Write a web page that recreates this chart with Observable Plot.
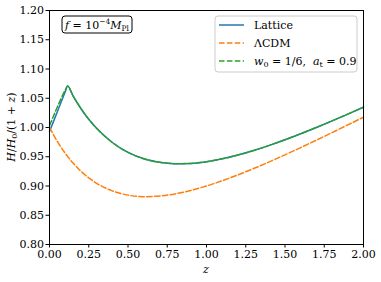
<!DOCTYPE html>
<html>
<head>
<meta charset="utf-8">
<script src="https://cdn.jsdelivr.net/npm/d3@7"></script>
<script src="https://cdn.jsdelivr.net/npm/@observablehq/plot@0.6"></script>
<style>
  body { margin: 0; background: white; }
  #chart svg { display: block; }
  #chart svg text, #chart svg tspan { font-family: "DejaVu Serif", "Liberation Serif", serif !important; }
</style>
</head>
<body>
<div id="chart"></div>
<script>
// ---- data ----
const zLattice = [0, 0.05, 0.1, 0.115, 0.15, 0.2, 0.25, 0.3, 0.4, 0.5, 0.6, 0.7, 0.8, 0.9, 1.0, 1.1, 1.2, 1.3, 1.4, 1.5, 1.6, 1.7, 1.8, 1.9, 2.0];
const lattice  = [0.993, 1.027, 1.061, 1.071, 1.054, 1.0325, 1.014, 0.9986, 0.9744, 0.9575, 0.9467, 0.9405, 0.938, 0.9386, 0.9415, 0.9464, 0.9529, 0.9606, 0.9694, 0.979, 0.9893, 1.0001, 1.0113, 1.0229, 1.0348];
const w0model  = [1.003, 1.035, 1.064, 1.071, 1.054, 1.0325, 1.014, 0.9986, 0.9744, 0.9575, 0.9467, 0.9405, 0.938, 0.9386, 0.9415, 0.9464, 0.9529, 0.9606, 0.9694, 0.979, 0.9893, 1.0001, 1.0113, 1.0229, 1.0348];
const zLCDM = [0, 0.05, 0.1, 0.15, 0.2, 0.25, 0.3, 0.4, 0.5, 0.6, 0.7, 0.8, 0.9, 1.0, 1.1, 1.2, 1.3, 1.4, 1.5, 1.6, 1.7, 1.8, 1.9, 2.0];
const lcdm  = [1.0, 0.9761, 0.956, 0.9392, 0.9253, 0.9139, 0.9046, 0.8916, 0.8844, 0.8818, 0.8828, 0.8865, 0.8924, 0.9, 0.909, 0.919, 0.9298, 0.9413, 0.9533, 0.9657, 0.9784, 0.9913, 1.0044, 1.0176];
const xTicks = [0, 0.25, 0.5, 0.75, 1.0, 1.25, 1.5, 1.75, 2.0];
const yTicks = [0.8, 0.85, 0.9, 0.95, 1.0, 1.05, 1.1, 1.15, 1.2];
const seriesNames = ["Lattice", "ΛCDM", "w0"];
const colors = ["#1f77b4", "#ff7f0e", "#2ca02c"];

const latticeData = zLattice.map((z, i) => ({z, v: lattice[i]}));
const w0Data = zLattice.map((z, i) => ({z, v: w0model[i]}));
const lcdmData = zLCDM.map((z, i) => ({z, v: lcdm[i]}));

const FONT = "DejaVu Serif";
const dash = "5.5,2.4";

const W = 381, H = 282, mL = 49, mR = 18, mT = 10, mB = 38;

const plot = Plot.plot({
  width: W, height: H,
  marginLeft: mL, marginRight: mR, marginTop: mT, marginBottom: mB,
  style: {fontFamily: FONT, fontSize: "11px", color: "black", background: "white", overflow: "visible"},
  x: {domain: [0, 2], ticks: xTicks, tickFormat: d3.format(".2f"), label: null, tickSize: 3.5, tickPadding: 2},
  y: {domain: [0.8, 1.2], ticks: yTicks, tickFormat: d3.format(".2f"), label: null, tickSize: 3.5, tickPadding: 2},
  marks: [
    Plot.line(latticeData, {x: "z", y: "v", stroke: colors[0], strokeWidth: 1.5, curve: "monotone-x"}),
    Plot.line(lcdmData, {x: "z", y: "v", stroke: colors[1], strokeWidth: 1.5, strokeDasharray: dash, curve: "monotone-x"}),
    Plot.line(w0Data, {x: "z", y: "v", stroke: colors[2], strokeWidth: 1.5, strokeDasharray: dash, curve: "monotone-x"}),
    Plot.frame({stroke: "black", strokeWidth: 1})
  ]
});
document.getElementById("chart").appendChild(plot);

const svg = d3.select(plot);
const cx = (mL + (W - mR)) / 2;
const cy = (mT + (H - mB)) / 2;

// x label
svg.append("text").attr("x", cx).attr("y", 273).attr("text-anchor", "middle")
  .attr("font-size", 11).attr("font-style", "italic").text("z");

// y label  H/H0/(1+z)
const yl = svg.append("text").attr("transform", `translate(15,${cy}) rotate(-90)`)
  .attr("text-anchor", "middle").attr("font-size", 11);
yl.append("tspan").attr("font-style", "italic").text("H");
yl.append("tspan").text("/");
yl.append("tspan").attr("font-style", "italic").text("H");
yl.append("tspan").attr("font-size", 8).attr("dy", 2).text("0");
yl.append("tspan").attr("dy", -2).text("/(1 + ");
yl.append("tspan").attr("font-style", "italic").text("z");
yl.append("tspan").text(")");

// annotation box
const ag = svg.append("g");
ag.append("rect").attr("x", 62).attr("y", 16).attr("width", 70).attr("height", 17).attr("rx", 3)
  .attr("fill", "white").attr("stroke", "black").attr("stroke-width", 1);
const at = ag.append("text").attr("x", 97).attr("y", 28.5).attr("text-anchor", "middle")
  .attr("font-size", 11);
at.append("tspan").attr("font-style", "italic").text("f");
at.append("tspan").text(" = 10");
at.append("tspan").attr("font-size", 7.5).attr("dy", -4.5).text("−4");
at.append("tspan").attr("dy", 4.5).attr("font-style", "italic").text("M");
at.append("tspan").attr("font-size", 7.5).attr("dy", 2).text("Pl");

// legend
const lg = svg.append("g").attr("font-size", 11);
lg.append("rect").attr("x", 215).attr("y", 16).attr("width", 142).attr("height", 56).attr("rx", 3)
  .attr("fill", "white").attr("fill-opacity", 0.8).attr("stroke", "#cccccc").attr("stroke-width", 1);
const rows = [25, 43, 61];
seriesNames.forEach((name, i) => {
  lg.append("line").attr("x1", 219).attr("x2", 244).attr("y1", rows[i]).attr("y2", rows[i])
    .attr("stroke", colors[i]).attr("stroke-width", 1.5)
    .attr("stroke-dasharray", i === 0 ? null : dash);
  const t = lg.append("text").attr("x", 254).attr("y", rows[i] + 4).attr("text-anchor", "start");
  if (name === "w0") {
    t.append("tspan").attr("font-style", "italic").text("w");
    t.append("tspan").attr("font-size", 8).attr("dy", 2).text("0");
    t.append("tspan").attr("dy", -2).text(" = 1/6,  ");
    t.append("tspan").attr("font-style", "italic").text("a");
    t.append("tspan").attr("font-size", 8).attr("dy", 2).text("t");
    t.append("tspan").attr("dy", -2).text(" = 0.9");
  } else {
    t.text(name);
  }
});
</script>
</body>
</html>
